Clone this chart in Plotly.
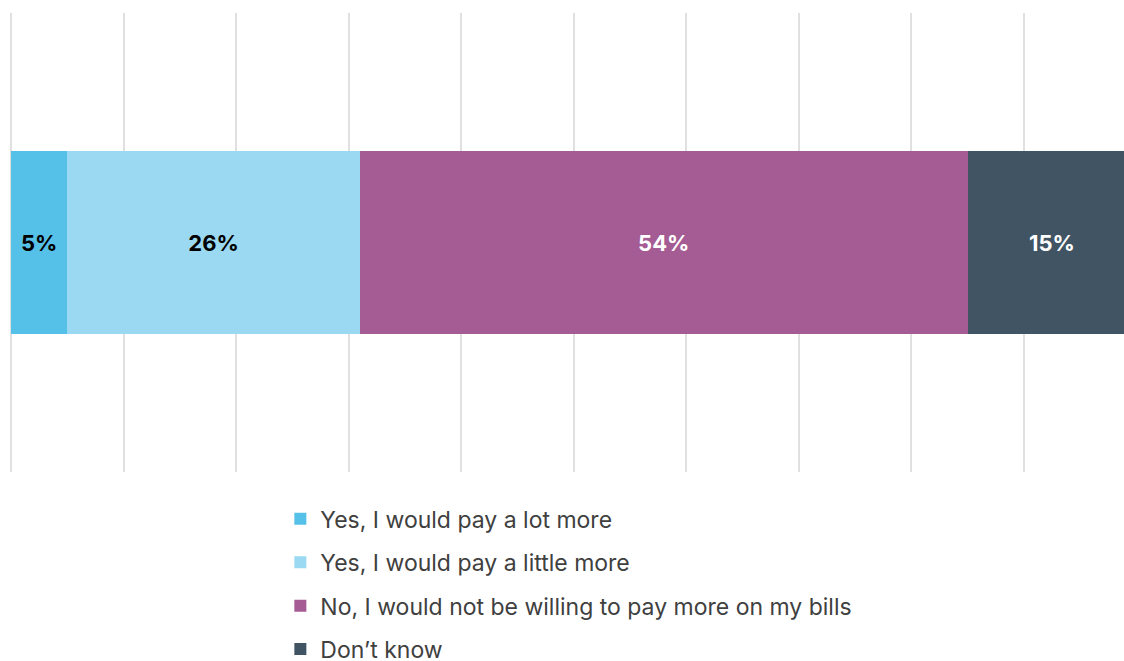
import plotly.graph_objects as go

# Survey responses (share of respondents, %)
question = ["Willing to pay more"]
responses = [
    "Yes, I would pay a lot more",
    "Yes, I would pay a little more",
    "No, I would not be willing to pay more on my bills",
    "Don’t know",
]
shares = [5, 26, 54, 15]
colors = ["#56C1E8", "#9AD9F1", "#A55B93", "#415464"]
label_colors = ["#000000", "#000000", "#FFFFFF", "#FFFFFF"]

fig = go.Figure()
for i, (name, val, col, tcol) in enumerate(zip(responses, shares, colors, label_colors)):
    fig.add_trace(go.Bar(
        y=question,
        x=[val],
        name=name,
        orientation="h",
        marker=dict(color=col, line=dict(width=0)),
        text=[f"{val}%"],
        textposition="inside",
        insidetextanchor="middle",
        textfont=dict(family="Inter, Roboto, sans-serif", size=22, color=tcol, weight="bold"),
        legendgroup=f"g{i}",
        hoverinfo="skip",
    ))

fig.update_layout(
    barmode="stack",
    bargap=0.6,
    width=1124,
    height=661,
    margin=dict(l=11, r=0, t=13, b=189, autoexpand=False),
    plot_bgcolor="white",
    paper_bgcolor="white",
    showlegend=True,
    legend=dict(
        orientation="v",
        x=0.242,
        xanchor="left",
        yref="container",
        y=0.2475,
        yanchor="top",
        traceorder="grouped",
        tracegroupgap=10.5,
        font=dict(family="Inter, Roboto, sans-serif", size=23, color="#404040"),
        bgcolor="rgba(0,0,0,0)",
    ),
    xaxis=dict(
        range=[0, 98.9],
        dtick=10,
        tick0=0,
        showgrid=True,
        gridcolor="#E0E0E0",
        gridwidth=2,
        zeroline=True,
        zerolinecolor="#E0E0E0",
        zerolinewidth=2,
        showticklabels=False,
        showline=False,
        fixedrange=True,
    ),
    yaxis=dict(
        showticklabels=False,
        showgrid=False,
        zeroline=False,
        showline=False,
        fixedrange=True,
    ),
)

fig.write_html("out.html")
